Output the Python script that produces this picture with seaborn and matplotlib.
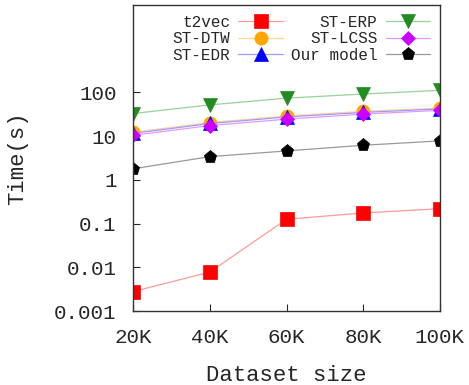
import matplotlib
matplotlib.use("Agg")
import matplotlib.pyplot as plt
import seaborn as sns
import pandas as pd

sizes = ["20K", "40K", "60K", "80K", "100K"]
x_vals = [20, 40, 60, 80, 100]
t2vec = [0.0028, 0.0078, 0.126, 0.175, 0.22]
st_dtw = [12.3, 20.5, 29, 37, 44]
st_edr = [11.6, 19.5, 27.5, 35, 42]
st_erp = [33, 52, 74, 92, 112]
st_lcss = [10.5, 17.5, 24.5, 32, 39]
our_model = [1.8, 3.4, 4.6, 6.2, 7.8]

series = [
    ("t2vec", t2vec, "s", "#ff0000", "#ff9a9a"),
    ("ST-DTW", st_dtw, "o", "#ffa500", "#ffd59a"),
    ("ST-EDR", st_edr, "^", "#0000ff", "#9a9aff"),
    ("ST-ERP", st_erp, "v", "#228b22", "#9ad09a"),
    ("ST-LCSS", st_lcss, "D", "#cc00ff", "#e39aff"),
    ("Our model", our_model, "p", "#000000", "#9a9a9a"),
]

sns.set_style("ticks")
plt.rcParams["font.family"] = ["Liberation Mono", "DejaVu Sans Mono"]

fig = plt.figure(figsize=(4.69, 3.85), dpi=100)
ax = fig.add_axes([0.284, 0.192, 0.654, 0.795])

for name, vals, mk, mc, lc in series:
    df = pd.DataFrame({"x": x_vals, "y": vals})
    ms = 7 if mk == "D" else 9.5
    sns.lineplot(data=df, x="x", y="y", ax=ax, color=lc, linewidth=0.9,
                 marker=mk, markersize=ms,
                 markerfacecolor=mc, markeredgecolor=mc, markeredgewidth=0.5,
                 label=name)

ax.set_yscale("log")
ax.set_ylim(0.001, 10000)
ax.set_xlim(20, 100)
ax.set_xticks(x_vals)
ax.set_xticklabels(sizes)
ax.set_yticks([0.001, 0.01, 0.1, 1, 10, 100])
ax.set_yticklabels(["0.001", "0.01", "0.1", "1", "10", "100"])
ax.minorticks_off()
ax.tick_params(direction="in", length=5, labelsize=15, width=0.8)
ax.tick_params(axis="y", pad=12)
ax.tick_params(axis="x", pad=12)
ax.set_xlabel("Dataset size", fontsize=16, labelpad=13)
ax.set_ylabel("Time(s)", fontsize=16, labelpad=19)
for s in ax.spines.values():
    s.set_color("#333333")
    s.set_linewidth(1.0)

leg = ax.legend(loc="upper right", ncol=2, frameon=False, markerfirst=False,
                fontsize=11.5, handlelength=2.8, columnspacing=0.5,
                labelspacing=0.1, handletextpad=0.5, borderaxespad=0.2)

fig.savefig("out.png", dpi=100)
